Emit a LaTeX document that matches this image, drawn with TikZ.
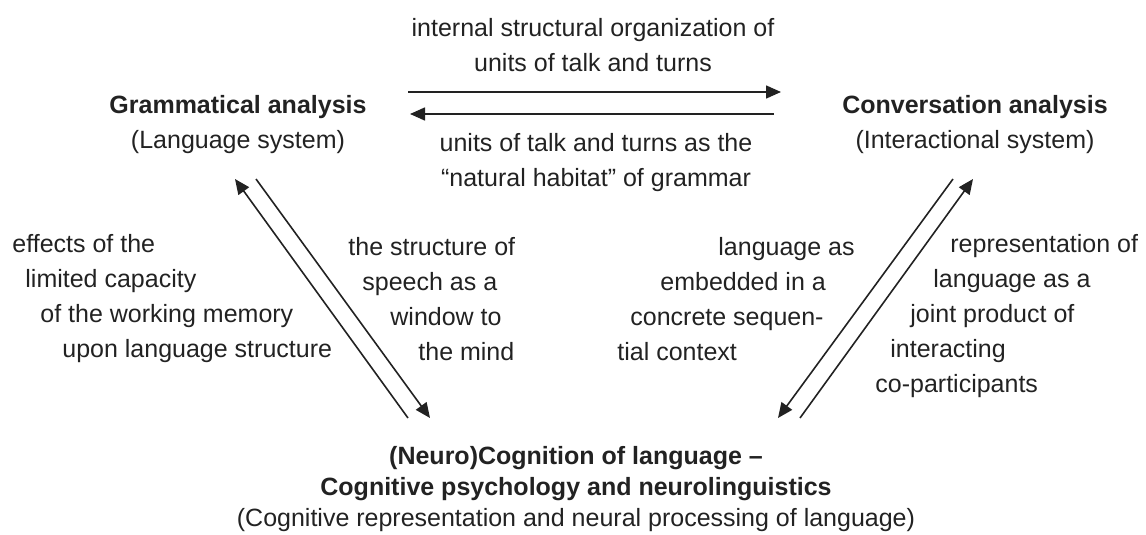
\documentclass[tikz,border=0pt]{standalone}
\usepackage{fontspec}
\setmainfont{Liberation Sans}
\usepackage{tikz}
\usetikzlibrary{arrows.meta,calc}
\definecolor{ink}{HTML}{222222}

\begin{document}
\begin{tikzpicture}[
    x=0.5pt, y=-0.5pt,
    txt/.style={
        inner sep=0pt,
        align=center,
        text=ink,
        font=\fontsize{12.5}{17.5}\selectfont
    },
    side/.style={txt, align=left, anchor=west},
    arrow/.style={-{Triangle[length=7.5pt,width=6.5pt]}, line width=0.8pt, draw=ink}
]
\useasboundingbox (0,0) rectangle (1146,535);

\node[txt] (gram) at (238,125)
  {\textbf{Grammatical analysis}\\(Language system)};
\node[txt] (conv) at (975,125)
  {\textbf{Conversation analysis}\\(Interactional system)};
\node[txt, font=\fontsize{12.5}{15.5}\selectfont] (cogn) at (576,489)
  {\textbf{(Neuro)Cognition of language –}\\
   \textbf{Cognitive psychology and neurolinguistics}\\
   (Cognitive representation and neural processing of language)};

\node[txt] (toplbl) at (593,45)
  {internal structural organization of\\units of talk and turns};
\node[txt] (botlbl) at (596,163)
  {units of talk and turns as the\\“natural habitat” of grammar};

\node[side] (memlbl) at (12,299)
  {effects of the\\\hspace*{6.5pt}limited capacity\\\hspace*{14pt}of the working memory\\
   \hspace*{25pt}upon language structure};
\node[side] (mindlbl) at (348,299)
  {the structure of\\\hspace*{7pt}speech as a\\\hspace*{21pt}window to\\\hspace*{35pt}the mind};
\node[side] (ctxlbl) at (617,299)
  {\hspace*{50.5pt}language as\\\hspace*{21.5pt}embedded in a\\\hspace*{6.5pt}concrete sequen-\\tial context};
\node[side] (jointlbl) at (875,316)
  {\hspace*{37.5pt}representation of\\\hspace*{29pt}language as a\\\hspace*{17.5pt}joint product of\\
   \hspace*{7.5pt}interacting\\co-participants};

\draw[arrow] ([shift={(170,-33)}]gram.center) -- ([shift={(-194,-33)}]conv.center);
\draw[arrow] ([shift={(-201,-11)}]conv.center) -- ([shift={(172,-11)}]gram.center);
\draw[arrow] ([shift={(-168,-71)}]cogn.center) -- ([shift={(-3,54)}]gram.center);
\draw[arrow] ([shift={(18,54)}]gram.center) -- ([shift={(-146,-71)}]cogn.center);
\draw[arrow] ([shift={(-22,54)}]conv.center) -- ([shift={(202,-71)}]cogn.center);
\draw[arrow] ([shift={(224,-71)}]cogn.center) -- ([shift={(-2,54)}]conv.center);
\end{tikzpicture}
\end{document}
